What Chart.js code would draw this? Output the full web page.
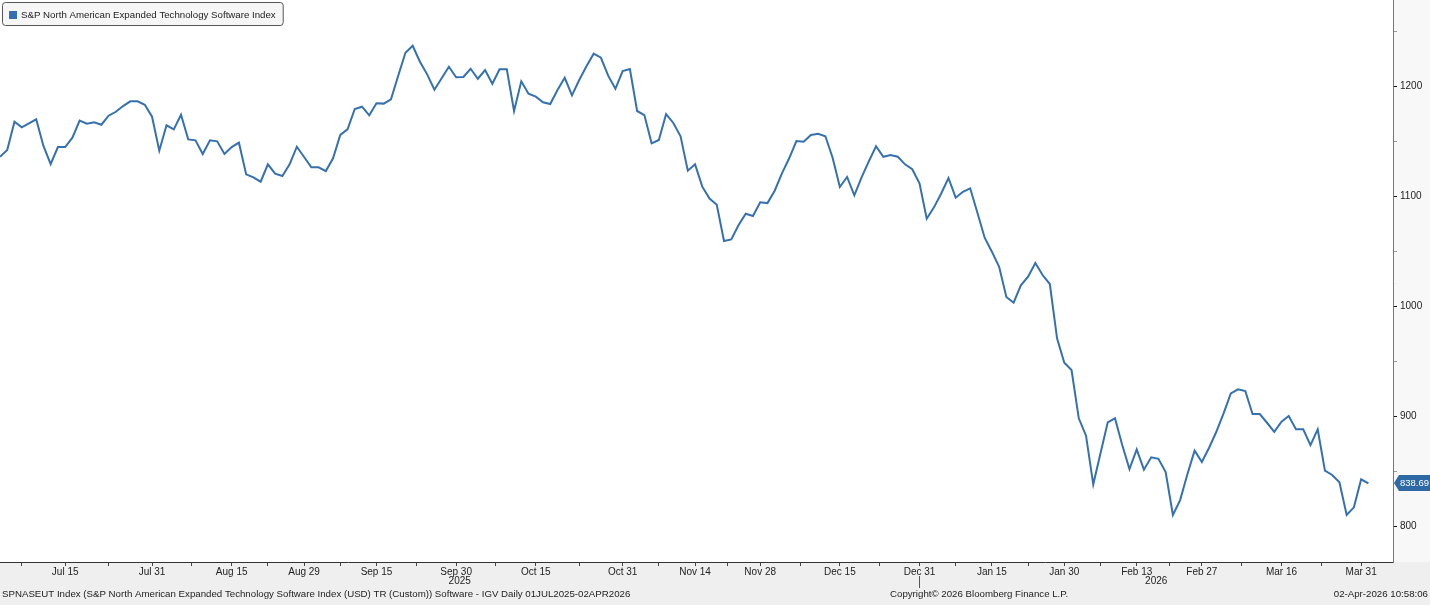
<!DOCTYPE html>
<html><head><meta charset="utf-8">
<script src="https://cdn.jsdelivr.net/npm/chart.js@4.4.1/dist/chart.umd.min.js"></script>
<style>html,body{margin:0;padding:0;background:#efefef;overflow:hidden}#wrap{width:1430px;height:605px;position:relative}</style>
</head><body><div id="wrap"><canvas id="c" width="1430" height="605"></canvas></div>
<script>
const seriesName = "S&P North American Expanded Technology Software Index";
// daily closes, 01-Jul-2025 .. Apr-2026 (trading-day index 0..189)
const values = [
1135.7,1141.8,1167.5,1162.5,1166.1,1169.7,1145.5,1129.1,1144.5,1144.5,
1153.0,1168.5,1165.7,1167.0,1164.8,1173.0,1176.6,1181.8,1186.1,1186.1,
1183.0,1172.1,1141.2,1164.3,1160.6,1173.9,1151.5,1150.6,1138.2,1150.6,
1149.7,1138.2,1144.5,1148.5,1119.7,1117.0,1113.0,1128.8,1120.3,1118.2,
1128.8,1144.8,1135.5,1126.1,1126.1,1122.7,1134.3,1155.5,1160.6,1179.1,
1181.2,1173.4,1184.3,1184.0,1187.9,1209.4,1230.3,1236.6,1222.1,1210.6,
1196.6,1207.0,1217.5,1207.9,1208.2,1215.7,1206.6,1214.5,1202.1,1215.2,
1215.2,1177.3,1204.3,1193.0,1190.3,1185.2,1183.6,1196.4,1207.5,1191.5,
1205.5,1217.9,1229.4,1225.7,1209.4,1197.5,1213.6,1215.5,1177.3,1173.6,
1147.9,1150.9,1174.5,1166.4,1154.3,1123.0,1128.8,1108.5,1097.7,1092.0,
1059.1,1060.6,1073.4,1083.9,1081.8,1094.3,1093.6,1104.8,1120.6,1134.3,
1150.0,1149.4,1155.5,1156.6,1154.3,1134.8,1108.2,1117.3,1100.6,1117.0,
1131.5,1145.2,1135.7,1137.3,1135.7,1128.8,1124.3,1111.5,1079.4,1089.7,
1102.3,1116.4,1098.5,1103.9,1107.0,1084.8,1062.1,1049.4,1035.7,1008.2,
1003.0,1018.8,1026.6,1039.1,1028.2,1020.0,970.6,948.5,941.8,897.9,
882.1,837.9,866.1,894.3,897.9,873.6,851.8,869.7,851.2,862.5,
861.1,849.1,810.0,823.6,847.0,868.5,858.2,871.2,885.7,902.5,
920.6,924.3,922.7,901.8,901.8,893.9,885.7,894.8,900.0,887.9,
887.9,873.6,887.9,850.3,846.4,839.7,810.0,817.0,842.5,838.69
];
const lastValueText = "838.69";
// x tick labels (trading-day index -> label)
const xTickIndex = [9,21,32,42,52,63,74,86,96,105,116,127,137,147,157,166,177,188];
const xTickLabel = ["Jul 15","Jul 31","Aug 15","Aug 29","Sep 15","Sep 30","Oct 15","Oct 31","Nov 14","Nov 28","Dec 15","Dec 31","Jan 15","Jan 30","Feb 13","Feb 27","Mar 16","Mar 31"];
const xMinorIndex = [3,15,26.5,37,47,57.5,68.5,80,91,100.5,110.5,121.5,132,142,152,161.5,171.5,182.5];
const yearLabels = ["2025","2026"];
const yearBoundaryIndex = 127;
const yMajorTicks = [800,900,1000,1100,1200];
const yMinorTicks = [850,950,1050,1150,1250];
const footerLeft = "SPNASEUT Index (S&P North American Expanded Technology Software Index (USD) TR (Custom)) Software - IGV Daily 01JUL2025-02APR2026";
const footerCenter = "Copyright\u00a9 2026 Bloomberg Finance L.P.";
const footerRight = "02-Apr-2026 10:58:06";

const LINE = '#3571b0';
const FONT = 'Liberation Sans, Arial, sans-serif';

const decor = {
  id: 'decor',
  beforeDraw(chart) {
    const {ctx, chartArea: a, width, height} = chart;
    ctx.save();
    ctx.fillStyle = '#efefef'; ctx.fillRect(0, 0, width, height);
    ctx.fillStyle = '#f8f8f8'; ctx.fillRect(a.right, 0, width - a.right, a.bottom);
    ctx.fillStyle = '#ffffff'; ctx.fillRect(a.left, a.top, a.right - a.left, a.bottom - a.top);
    ctx.restore();
  },
  afterDraw(chart) {
    const {ctx, chartArea: a, scales: {x, y}, width} = chart;
    ctx.save();
    // year labels and separator
    const b = [x.min, yearBoundaryIndex, x.max];
    ctx.font = '10px ' + FONT; ctx.fillStyle = '#222'; ctx.textAlign = 'center'; ctx.textBaseline = 'middle';
    yearLabels.forEach((t, j) => ctx.fillText(t, x.getPixelForValue((b[j] + b[j + 1]) / 2), a.bottom + 19));
    const sx = Math.round(x.getPixelForValue(yearBoundaryIndex)) + 0.5;
    ctx.strokeStyle = '#555'; ctx.lineWidth = 1;
    ctx.beginPath(); ctx.moveTo(sx, a.bottom + 14); ctx.lineTo(sx, a.bottom + 26); ctx.stroke();
    // footer
    ctx.font = '9.7px ' + FONT;
    ctx.textAlign = 'left'; ctx.fillStyle = '#222';
    ctx.fillText(footerLeft, 2, a.bottom + 32);
    ctx.fillText(footerCenter, 890, a.bottom + 32);
    ctx.textAlign = 'right';
    ctx.fillText(footerRight, width - 2, a.bottom + 32);
    // legend box
    ctx.font = '9.7px ' + FONT;
    const tw = ctx.measureText(seriesName).width;
    const bx = 2.5, by = 2.5, bw = tw + 26, bh = 23;
    ctx.beginPath();
    ctx.roundRect(bx, by, bw, bh, 3);
    ctx.fillStyle = '#f6f6f6'; ctx.fill();
    ctx.strokeStyle = '#555'; ctx.stroke();
    ctx.fillStyle = LINE; ctx.fillRect(9, 11, 8, 8);
    ctx.fillStyle = '#222'; ctx.textAlign = 'left'; ctx.textBaseline = 'middle';
    ctx.fillText(seriesName, 21, 15);
    // last value tag
    const cy = Math.round(y.getPixelForValue(values[values.length - 1]));
    const ax = a.right + 1;
    ctx.beginPath();
    ctx.moveTo(ax, cy); ctx.lineTo(ax + 5, cy - 8); ctx.lineTo(width, cy - 8);
    ctx.lineTo(width, cy + 8); ctx.lineTo(ax + 5, cy + 8); ctx.closePath();
    ctx.fillStyle = '#2e69a6'; ctx.fill();
    ctx.font = '9.5px ' + FONT;
    ctx.fillStyle = '#ffffff'; ctx.textAlign = 'right';
    ctx.fillText(lastValueText, width - 1, cy + 0.5);
    ctx.restore();
  }
};

const xTicksAll = xTickIndex.concat(xMinorIndex).sort((p, q) => p - q);

new Chart(document.getElementById('c'), {
  type: 'line',
  data: {
    datasets: [{
      label: seriesName,
      data: values.map((v, i) => ({x: i, y: v})),
      borderColor: LINE,
      borderWidth: 2,
      pointRadius: 0,
      tension: 0,
      fill: false
    }]
  },
  options: {
    responsive: false,
    devicePixelRatio: 1,
    animation: false,
    layout: {padding: 0},
    plugins: {legend: {display: false}, tooltip: {enabled: false}},
    scales: {
      x: {
        type: 'linear',
        min: 0,
        max: 192.4,
        afterBuildTicks: s => { s.ticks = xTicksAll.map(v => ({value: v})); },
        afterFit: s => { s.height = 43; s.paddingLeft = 0; s.paddingRight = 0; },
        grid: {drawOnChartArea: false, tickLength: 4, color: '#444'},
        border: {display: true, color: '#333', width: 1},
        ticks: {
          autoSkip: false, maxRotation: 0, padding: 0,
          font: {family: FONT, size: 10}, color: '#222',
          callback: v => { const k = xTickIndex.indexOf(v); return k >= 0 ? xTickLabel[k] : ''; }
        }
      },
      y: {
        position: 'right',
        min: 767.3,
        max: 1278.2,
        afterBuildTicks: s => { s.ticks = yMajorTicks.concat(yMinorTicks).sort((p, q) => p - q).map(v => ({value: v})); },
        afterFit: s => { s.width = 37; s.paddingTop = 0; s.paddingBottom = 0; },
        grid: {
          drawOnChartArea: false, tickLength: 4,
          color: c => (c.tick && yMajorTicks.includes(c.tick.value)) ? '#111' : '#999'
        },
        border: {display: true, color: '#777', width: 1},
        ticks: {
          padding: 3,
          font: {family: FONT, size: 10}, color: '#222',
          callback: v => yMajorTicks.includes(v) ? String(v) : ''
        }
      }
    }
  },
  plugins: [decor]
});
</script>
</body></html>
